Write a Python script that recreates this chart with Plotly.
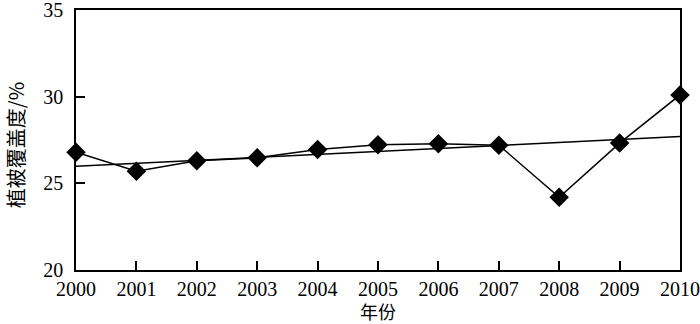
import plotly.graph_objects as go

years = [2000, 2001, 2002, 2003, 2004, 2005, 2006, 2007, 2008, 2009, 2010]
coverage = [26.8, 25.7, 26.3, 26.47, 26.95, 27.22, 27.28, 27.2, 24.2, 27.32, 30.1]
trend_years = [2000, 2010]
trend_values = [25.98, 27.7]
x_ticks = [str(y) for y in years]
y_ticks = [20, 25, 30, 35]
x_title = "年份"
y_title = "植被覆盖度/%"

font_family = "Liberation Serif, Times New Roman, Noto Sans CJK SC, serif"
cjk_family = "Noto Sans CJK SC"

fig = go.Figure()
fig.add_trace(go.Scatter(x=trend_years, y=trend_values, mode="lines",
                         line=dict(color="black", width=1.5), showlegend=False, cliponaxis=False))
fig.add_trace(go.Scatter(x=years, y=coverage, mode="lines+markers",
                         line=dict(color="black", width=1.5),
                         marker=dict(symbol="diamond", size=15, color="black"),
                         showlegend=False, cliponaxis=False))

fig.update_layout(
    width=700, height=324,
    margin=dict(l=76, r=20, t=10, b=54, autoexpand=False),
    paper_bgcolor="white", plot_bgcolor="white",
    font=dict(family=font_family, size=20, color="black"),
    xaxis=dict(range=[2000, 2010], tickvals=years, ticktext=x_ticks, automargin=False,
               ticklabeloverflow="allow",
               ticks="inside", ticklen=9, tickwidth=1.5, tickcolor="black",
               showline=True, linecolor="black", linewidth=1.5, mirror=True,
               showgrid=False, zeroline=False),
    yaxis=dict(range=[20, 35], tickvals=y_ticks, automargin=False,
               ticklabeloverflow="allow", ticklabelstandoff=7,
               ticks="inside", ticklen=9, tickwidth=1.5, tickcolor="black",
               showline=True, linecolor="black", linewidth=1.5, mirror=True,
               showgrid=False, zeroline=False),
)

fig.add_annotation(text=x_title, xref="paper", yref="paper", x=0.5, y=0,
                   yshift=-41, showarrow=False, xanchor="center", yanchor="middle",
                   font=dict(family=cjk_family, size=18, color="black"))
fig.add_annotation(text=y_title, xref="paper", yref="paper", x=0, y=0.48,
                   xshift=-61, showarrow=False, textangle=-90, xanchor="center", yanchor="middle",
                   font=dict(family=cjk_family, size=20, color="black"))

fig.write_html("out.html", config={"displayModeBar": False},
               post_script="document.body.style.margin='0';")
